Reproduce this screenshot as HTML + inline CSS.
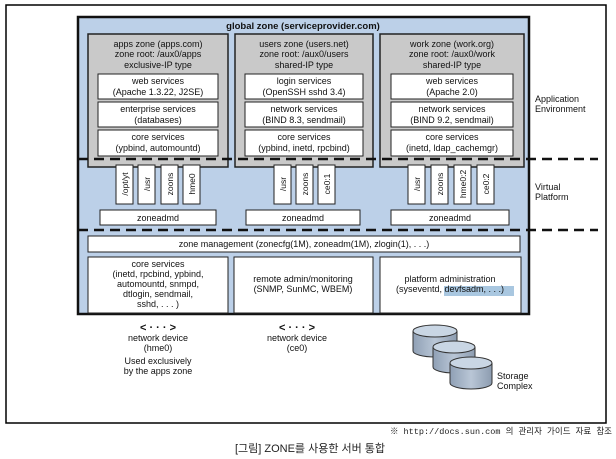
<!DOCTYPE html>
<html><head><meta charset="utf-8"><style>
body{margin:0;background:#fff;}
svg{display:block;font-family:"Liberation Sans","Noto Sans CJK KR",sans-serif;}
</style></head><body>
<svg width="616" height="459" viewBox="0 0 616 459" xmlns="http://www.w3.org/2000/svg">
<defs>
<linearGradient id="cyl" x1="0" x2="1"><stop offset="0" stop-color="#8fa0b5"/><stop offset="0.5" stop-color="#b9c6d6"/><stop offset="1" stop-color="#8c9cb0"/></linearGradient>
</defs>
<rect x="6" y="5" width="600" height="418" fill="#fff" stroke="#000" stroke-width="1.5"/>
<rect x="78" y="17" width="451" height="297" fill="#bcd0e8" stroke="#111" stroke-width="2.5"/>
<text x="303" y="29" font-size="9.5" font-weight="bold" text-anchor="middle" fill="#111">global zone (serviceprovider.com)</text>
<g font-size="9" fill="#111" text-anchor="middle">
<rect x="88" y="34" width="140" height="133" fill="#c9c9c9" stroke="#222" stroke-width="1.5"/>
<rect x="235" y="34" width="138" height="133" fill="#c9c9c9" stroke="#222" stroke-width="1.5"/>
<rect x="380" y="34" width="144" height="133" fill="#c9c9c9" stroke="#222" stroke-width="1.5"/>
<text x="158" y="47">apps zone (apps.com)</text><text x="158" y="57">zone root: /aux0/apps</text><text x="158" y="68">exclusive-IP type</text>
<text x="304" y="47">users zone (users.net)</text><text x="304" y="57">zone root: /aux0/users</text><text x="304" y="68">shared-IP type</text>
<text x="452" y="47">work zone (work.org)</text><text x="452" y="57">zone root: /aux0/work</text><text x="452" y="68">shared-IP type</text>
<g fill="#fff" stroke="#222" stroke-width="1">
<rect x="98" y="74" width="120" height="25"/><rect x="98" y="102" width="120" height="25"/><rect x="98" y="130" width="120" height="26"/>
<rect x="245" y="74" width="118" height="25"/><rect x="245" y="102" width="118" height="25"/><rect x="245" y="130" width="118" height="26"/>
<rect x="391" y="74" width="122" height="25"/><rect x="391" y="102" width="122" height="25"/><rect x="391" y="130" width="122" height="26"/>
</g>
<text x="158" y="84">web services</text><text x="158" y="95">(Apache 1.3.22, J2SE)</text>
<text x="158" y="112">enterprise services</text><text x="158" y="123">(databases)</text>
<text x="158" y="140">core services</text><text x="158" y="151">(ypbind, automountd)</text>
<text x="304" y="84">login services</text><text x="304" y="95">(OpenSSH sshd 3.4)</text>
<text x="304" y="112">network services</text><text x="304" y="123">(BIND 8.3, sendmail)</text>
<text x="304" y="140">core services</text><text x="304" y="151">(ypbind, inetd, rpcbind)</text>
<text x="452" y="84">web services</text><text x="452" y="95">(Apache 2.0)</text>
<text x="452" y="112">network services</text><text x="452" y="123">(BIND 9.2, sendmail)</text>
<text x="452" y="140">core services</text><text x="452" y="151">(inetd, ldap_cachemgr)</text>
<line x1="78" y1="159" x2="598" y2="159" stroke="#111" stroke-width="2.5" stroke-dasharray="10,6"/>
<line x1="78" y1="230" x2="598" y2="230" stroke="#111" stroke-width="2.5" stroke-dasharray="10,6"/>
<g fill="#fff" stroke="#222" stroke-width="1">
<rect x="116" y="165" width="17" height="39"/><rect x="138" y="165" width="17" height="39"/><rect x="161" y="165" width="17" height="39"/><rect x="183" y="165" width="17" height="39"/>
<rect x="274" y="165" width="17" height="39"/><rect x="296" y="165" width="17" height="39"/><rect x="318" y="165" width="17" height="39"/>
<rect x="408" y="165" width="17" height="39"/><rect x="431" y="165" width="17" height="39"/><rect x="454" y="165" width="17" height="39"/><rect x="477" y="165" width="17" height="39"/>
<rect x="100" y="210" width="116" height="15"/><rect x="246" y="210" width="114" height="15"/><rect x="391" y="210" width="118" height="15"/>
<rect x="88" y="236" width="432" height="16"/>
<rect x="88" y="257" width="140" height="56"/><rect x="234" y="257" width="139" height="56"/><rect x="380" y="257" width="141" height="56"/>
</g>
<g font-size="8.5">
<text transform="translate(128,184) rotate(-90)">/opt/yt</text>
<text transform="translate(150,184) rotate(-90)">/usr</text>
<text transform="translate(173,184) rotate(-90)">zoons</text>
<text transform="translate(195,184) rotate(-90)">hme0</text>
<text transform="translate(286,184) rotate(-90)">/usr</text>
<text transform="translate(308,184) rotate(-90)">zoons</text>
<text transform="translate(330,184) rotate(-90)">ce0:1</text>
<text transform="translate(420,184) rotate(-90)">/usr</text>
<text transform="translate(443,184) rotate(-90)">zoons</text>
<text transform="translate(466,184) rotate(-90)">hme0:2</text>
<text transform="translate(489,184) rotate(-90)">ce0:2</text>
</g>
<text x="158" y="221">zoneadmd</text><text x="303" y="221">zoneadmd</text><text x="450" y="221">zoneadmd</text>
<text x="304" y="247">zone management (zonecfg(1M), zoneadm(1M), zlogin(1), . . .)</text>
<text x="158" y="267">core services</text><text x="158" y="277">(inetd, rpcbind, ypbind,</text><text x="158" y="287">automountd, snmpd,</text><text x="158" y="297">dtlogin, sendmail,</text><text x="158" y="307">sshd, . . . )</text>
<text x="303" y="282">remote admin/monitoring</text><text x="303" y="292">(SNMP, SunMC, WBEM)</text>
<rect x="444" y="286" width="70" height="10" fill="#a9c7e0"/>
<text x="450" y="282">platform administration</text><text x="450" y="292">(syseventd, devfsadm, . . .)</text>
<text x="158" y="331" font-size="11" font-weight="bold">&lt; · · · &gt;</text>
<text x="158" y="341">network device</text><text x="158" y="351">(hme0)</text><text x="158" y="364">Used exclusively</text><text x="158" y="374">by the apps zone</text>
<text x="297" y="331" font-size="11" font-weight="bold">&lt; · · · &gt;</text>
<text x="297" y="341">network device</text><text x="297" y="351">(ce0)</text>
</g>
<g font-size="9" fill="#111">
<text x="535" y="102">Application</text><text x="535" y="112">Environment</text>
<text x="535" y="190">Virtual</text><text x="535" y="200">Platform</text>
<text x="497" y="379">Storage</text><text x="497" y="389">Complex</text>
</g>
<g stroke="#333" stroke-width="1">
<path d="M413 331 v20 a22 6 0 0 0 44 0 v-20" fill="url(#cyl)"/><ellipse cx="435" cy="331" rx="22" ry="6" fill="#c9d6e4"/>
<path d="M433 347 v20 a21 6 0 0 0 42 0 v-20" fill="url(#cyl)"/><ellipse cx="454" cy="347" rx="21" ry="6" fill="#c9d6e4"/>
<path d="M450 363 v20 a21 6 0 0 0 42 0 v-20" fill="url(#cyl)"/><ellipse cx="471" cy="363" rx="21" ry="6" fill="#c9d6e4"/>
</g>
<text x="612" y="434" font-size="8.5" text-anchor="end" fill="#222" font-family="Liberation Mono, Noto Sans CJK KR, monospace">※ http://docs.sun.com 의 관리자 가이드 자료 참조</text>
<text x="310" y="452" font-size="11" text-anchor="middle" fill="#222">[그림] ZONE를 사용한 서버 통합</text>
</svg>
</body></html>
